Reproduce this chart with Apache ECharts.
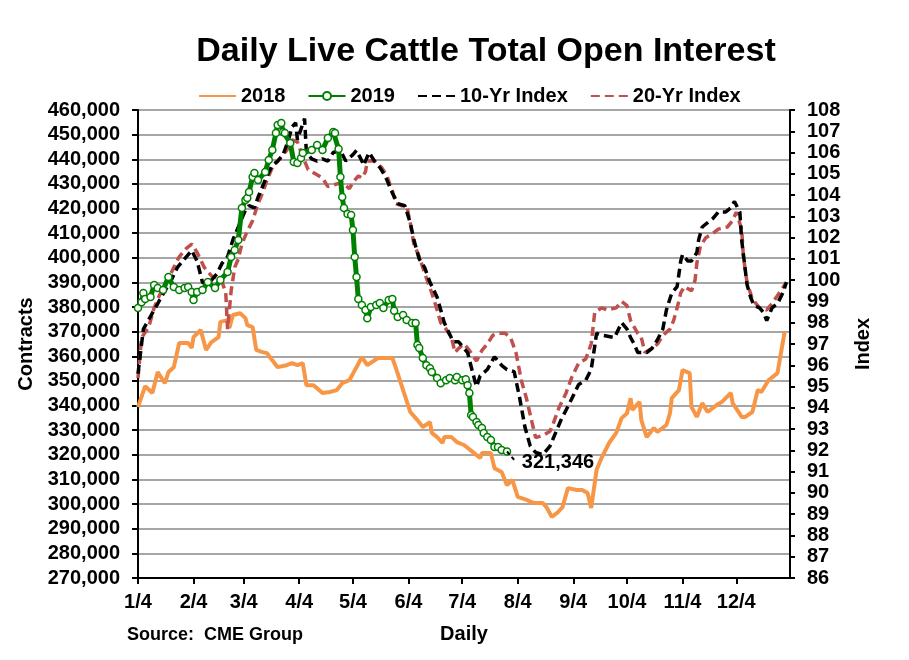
<!DOCTYPE html>
<html>
<head>
<meta charset="utf-8">
<script src="https://cdn.jsdelivr.net/npm/echarts@6/dist/echarts.min.js"></script>
<style>
  html, body { margin: 0; padding: 0; background: #fff; }
  #chart { width: 909px; height: 660px; }
</style>
</head>
<body>
<div id="chart"></div>
<script>
// daily categories, Jan 4 through Jan 3 of the next year
const days = [];
for (let i = 0; i < 365; i++) {
  const d = new Date(Date.UTC(2019, 0, 4) + i * 86400000);
  days.push((d.getUTCMonth() + 1) + '/' + d.getUTCDate());
}

const dates2018 = ['1/4','1/8','1/12','1/15','1/19','1/21','1/24','1/27','2/1','2/3','2/4','2/8','2/11','2/14','2/18','2/19','2/23','2/24','2/26','3/2','3/5','3/6','3/9','3/11','3/14','3/17','3/19','3/23','3/28','3/31','4/3','4/6','4/8','4/12','4/17','4/21','4/25','4/28','5/2','5/6','5/9','5/12','5/18','5/26','5/28','6/1','6/5','6/9','6/12','6/16','6/17','6/20','6/23','6/24','6/28','7/1','7/5','7/10','7/14','7/15','7/20','7/22','7/26','7/29','8/1','8/4','8/9','8/13','8/18','8/20','8/23','8/26','8/29','9/1','9/6','9/9','9/12','9/14','9/17','9/20','9/24','9/28','10/1','10/4','10/6','10/7','10/11','10/12','10/15','10/19','10/21','10/26','10/28','10/29','11/2','11/4','11/8','11/9','11/12','11/15','11/18','11/23','11/26','12/1','12/2','12/7','12/9','12/13','12/16','12/18','12/22','12/27','12/28','12/31'];
const vals2018 = [339400,347900,345100,353600,349100,353600,355600,365400,365400,363400,367800,370700,362600,365800,367800,374000,374700,371500,376800,377500,375500,372700,371900,362600,361800,361300,359300,355600,356400,357200,356400,357200,348300,348300,345100,345500,346300,349100,350300,355600,359700,356400,359300,359300,355200,346300,337400,334100,331300,333300,328900,327200,324800,327200,327200,325200,324000,321100,318700,320700,320700,314600,313000,307700,309800,302900,301700,300400,300400,298800,294800,296400,298800,306500,305700,305700,304500,298400,313800,319100,324800,328900,334900,336900,343000,338200,341500,334100,327200,330900,329300,332100,336900,343000,346300,354400,353200,339400,335400,341000,337400,340200,341500,345100,341000,335400,335400,337400,346300,345500,350300,353200,353600,369900];

const dates2019 = ['1/4','1/6','1/7','1/8','1/11','1/13','1/15','1/18','1/21','1/24','1/27','1/30','2/1','2/3','2/4','2/6','2/9','2/12','2/16','2/19','2/23','2/25','2/27','3/1','3/3','3/5','3/6','3/7','3/9','3/10','3/12','3/16','3/18','3/20','3/22','3/23','3/25','3/26','3/27','3/30','4/1','4/3','4/5','4/6','4/11','4/14','4/17','4/20','4/23','4/24','4/26','4/27','4/28','4/29','5/1','5/3','5/4','5/5','5/6','5/7','5/9','5/11','5/12','5/14','5/17','5/19','5/21','5/24','5/26','5/27','5/29','6/1','6/3','6/6','6/8','6/9','6/10','6/12','6/14','6/16','6/17','6/20','6/22','6/25','6/27','6/30','7/1','7/4','7/6','7/7','7/8','7/9','7/10','7/12','7/13','7/15','7/16','7/18','7/20','7/22','7/24','7/26','7/29'];
const vals2019 = [379600,382000,385700,383300,384100,389000,387700,386900,392200,388100,386900,387700,388100,386100,382900,386100,386900,390200,387700,391000,394200,400300,403200,407200,420200,423500,424300,426700,432800,434400,431600,434800,439700,443800,450700,453900,454700,451100,450700,446600,438900,438500,440500,442500,443800,445800,443800,448600,451100,450700,444200,432800,424700,420200,417800,417400,411300,400300,392200,383300,380800,378800,375500,380000,380800,381600,379600,382900,383300,378500,376000,376800,374700,373500,373500,364600,363400,359300,356400,355200,353600,351200,349100,350300,351200,350300,351600,350300,350700,348300,345100,336200,335400,333300,332100,330900,328900,327200,326000,323200,323200,322000,321346];

const dates10 = ['1/4','1/6','1/7','1/11','1/15','1/19','1/22','1/26','1/30','2/2','2/3','2/6','2/9','2/12','2/17','2/20','2/23','2/26','3/2','3/5','3/7','3/10','3/12','3/15','3/17','3/20','3/23','3/26','3/29','3/31','4/2','4/3','4/5','4/7','4/8','4/11','4/14','4/17','4/20','4/23','4/27','4/30','5/4','5/6','5/9','5/10','5/13','5/16','5/19','5/22','5/26','5/29','6/2','6/5','6/7','6/10','6/13','6/16','6/20','6/24','6/29','7/2','7/7','7/10','7/12','7/14','7/18','7/22','7/26','7/29','8/2','8/5','8/8','8/11','8/14','8/18','8/22','8/24','8/28','8/31','9/3','9/7','9/11','9/14','9/16','9/17','9/21','9/27','10/1','10/4','10/6','10/8','10/10','10/12','10/15','10/18','10/21','10/24','10/26','10/29','11/1','11/3','11/4','11/7','11/9','11/12','11/13','11/15','11/18','11/21','11/24','11/28','12/1','12/3','12/6','12/7','12/9','12/10','12/12','12/14','12/17','12/19','12/21','12/24','12/27','12/30','1/1'];
const vals10 = [95.6,97.0,97.7,98.3,98.9,99.5,99.9,100.6,101.0,101.3,101.4,100.9,99.9,99.8,100.3,100.8,101.1,101.9,102.7,103.3,103.5,103.4,103.9,104.5,104.9,105.4,105.6,105.9,106.6,107.2,107.4,106.6,107.1,107.6,106.0,105.7,105.6,105.7,105.6,106.0,106.1,105.6,105.9,106.1,105.6,105.4,106.0,105.6,105.3,104.9,104.1,103.6,103.5,102.7,101.9,101.0,100.6,99.9,99.2,98.0,97.1,97.1,96.6,95.6,95.0,95.5,95.8,96.4,96.0,95.8,95.7,94.5,93.1,92.2,91.9,91.8,92.2,92.6,93.4,93.9,94.4,95.1,95.3,95.8,96.9,97.5,97.4,97.3,98.0,97.7,97.3,97.0,96.6,96.6,96.6,96.8,97.2,97.7,98.6,99.4,99.7,100.9,101.2,100.9,100.9,101.3,101.9,102.5,102.7,102.9,103.2,103.2,103.4,103.7,103.2,101.9,100.5,99.8,99.2,98.8,98.7,98.5,98.1,98.7,98.9,99.4,99.9];

const dates20 = ['1/4','1/6','1/10','1/13','1/16','1/20','1/24','1/27','1/31','2/3','2/6','2/10','2/14','2/17','2/20','2/22','2/23','2/25','2/27','3/1','3/3','3/6','3/9','3/12','3/15','3/17','3/20','3/24','3/28','3/31','4/3','4/6','4/9','4/13','4/17','4/20','4/24','4/28','5/2','5/4','5/7','5/9','5/11','5/12','5/16','5/20','5/23','5/26','5/28','5/31','6/3','6/5','6/7','6/10','6/14','6/17','6/20','6/22','6/25','6/28','6/30','7/2','7/5','7/8','7/12','7/15','7/18','7/21','7/24','7/28','7/31','8/3','8/6','8/9','8/12','8/14','8/18','8/22','8/24','8/27','8/31','9/3','9/7','9/11','9/14','9/16','9/20','9/23','9/28','10/1','10/4','10/6','10/10','10/12','10/14','10/18','10/21','10/24','10/28','10/30','11/1','11/3','11/5','11/9','11/11','11/12','11/14','11/17','11/21','11/24','11/29','12/2','12/4','12/7','12/8','12/10','12/13','12/17','12/21','12/24','12/28','1/1'];
const vals20 = [95.4,97.3,97.8,98.7,99.3,99.9,100.6,101.1,101.5,101.7,101.3,100.6,100.2,100.1,99.9,99.4,97.7,99.5,100.6,101.0,101.7,102.3,102.8,103.6,104.2,104.7,105.3,105.7,106.1,106.6,106.5,105.8,105.2,105.0,104.8,104.4,104.5,104.6,104.3,104.6,104.9,104.8,105.1,105.6,105.6,105.3,104.9,104.2,103.6,103.5,103.5,102.7,101.7,101.1,100.1,99.4,98.6,98.0,97.7,97.3,96.6,96.8,97.0,96.7,96.2,96.7,97.0,97.4,97.5,97.5,97.3,96.6,95.3,94.4,93.3,92.6,92.7,92.9,93.3,94.0,94.7,95.4,96.1,96.3,97.0,98.5,98.7,98.6,98.7,99.0,98.8,98.1,97.5,97.3,96.6,96.8,97.0,97.4,97.7,98.1,98.7,99.4,99.7,99.5,100.0,100.8,101.6,102.0,102.2,102.4,102.5,102.8,103.2,102.4,101.1,99.9,99.1,98.7,98.6,98.9,99.4,99.9];

const font = 'Arial, "Liberation Sans", sans-serif';
const pairs = (xs, ys) => xs.map((x, i) => [x, ys[i]]);
const onFourth = (idx, val) => /\/4$/.test(val);
const lastDate = dates2019[dates2019.length - 1];
const lastVal = vals2019[vals2019.length - 1];
const noDot = { opacity: 0 };

const chart = echarts.init(document.getElementById('chart'));
chart.setOption({
  animation: false,
  title: {
    text: 'Daily Live Cattle Total Open Interest',
    left: 481,
    textAlign: 'center',
    top: 30,
    textStyle: { fontFamily: font, fontSize: 34, fontWeight: 'bold', color: '#000' }
  },
  legend: {
    data: [
      { name: '2018', itemStyle: noDot },
      { name: '2019' },
      { name: '10-Yr Index', itemStyle: noDot },
      { name: '20-Yr Index', itemStyle: noDot }
    ],
    left: 193,
    top: 81,
    itemWidth: 37,
    itemHeight: 10,
    itemGap: 22,
    textStyle: { fontFamily: font, fontSize: 20, fontWeight: 'bold', color: '#000' }
  },
  grid: {
    left: 138, right: 119, top: 110, bottom: 82,
    show: true, borderColor: '#404040', borderWidth: 2
  },
  xAxis: {
    type: 'category',
    data: days,
    boundaryGap: false,
    name: 'Daily',
    nameLocation: 'middle',
    nameGap: 46,
    nameTextStyle: { fontFamily: font, fontSize: 20, fontWeight: 'bold', color: '#000' },
    axisLine: { lineStyle: { color: '#000', width: 2 } },
    axisTick: { interval: onFourth, length: 6, lineStyle: { color: '#000', width: 2 } },
    axisLabel: {
      interval: onFourth, margin: 14,
      fontFamily: font, fontSize: 20, fontWeight: 'bold', color: '#000'
    },
    splitLine: { show: false }
  },
  yAxis: [
    {
      type: 'value',
      min: 270000, max: 460000, interval: 10000,
      name: 'Contracts',
      nameLocation: 'middle',
      nameGap: 98,
      nameTextStyle: { fontFamily: font, fontSize: 20, fontWeight: 'bold', color: '#000' },
      axisLine: { show: true, lineStyle: { color: '#000', width: 2 } },
      axisTick: { show: true, length: 6, lineStyle: { color: '#000', width: 2 } },
      axisLabel: {
        margin: 18,
        formatter: v => v.toLocaleString('en-US'),
        fontFamily: font, fontSize: 20, fontWeight: 'bold', color: '#000'
      },
      splitLine: { lineStyle: { color: '#a6a6a6', width: 2 } }
    },
    {
      type: 'value',
      min: 86, max: 108, interval: 1,
      name: 'Index',
      nameLocation: 'middle',
      nameGap: 63,
      nameRotate: 90,
      nameTextStyle: { fontFamily: font, fontSize: 20, fontWeight: 'bold', color: '#000' },
      axisLine: { show: true, lineStyle: { color: '#000', width: 2 } },
      axisTick: { show: true, length: 5, lineStyle: { color: '#000', width: 2 } },
      axisLabel: { margin: 17, fontFamily: font, fontSize: 20, fontWeight: 'bold', color: '#000' },
      splitLine: { show: false }
    }
  ],
  series: [
    {
      name: '20-Yr Index',
      type: 'line',
      yAxisIndex: 1,
      data: pairs(dates20, vals20),
      symbol: 'none',
      itemStyle: { color: '#c0504d' },
      lineStyle: { color: '#c0504d', width: 3.5, type: [9, 5] },
      z: 2
    },
    {
      name: '10-Yr Index',
      type: 'line',
      yAxisIndex: 1,
      data: pairs(dates10, vals10),
      symbol: 'none',
      itemStyle: { color: '#000' },
      lineStyle: { color: '#000', width: 3.5, type: [9, 5] },
      z: 3
    },
    {
      name: '2018',
      type: 'line',
      data: pairs(dates2018, vals2018),
      symbol: 'none',
      itemStyle: { color: '#f79646' },
      lineStyle: { color: '#f79646', width: 4 },
      z: 1
    },
    {
      name: '2019',
      type: 'line',
      data: pairs(dates2019, vals2019),
      symbol: 'circle',
      symbolSize: 7,
      showAllSymbol: true,
      itemStyle: { color: '#fff', borderColor: '#008000', borderWidth: 1.5 },
      lineStyle: { color: '#008000', width: 5 },
      z: 4,
      markLine: {
        silent: true,
        symbol: 'none',
        label: { show: false },
        lineStyle: { color: '#000', width: 2, type: [4, 3] },
        data: [[{ coord: [lastDate, lastVal] }, { coord: ['8/2', 318000] }]]
      },
      markPoint: {
        symbol: 'circle',
        symbolSize: 1,
        itemStyle: { color: 'rgba(0,0,0,0)' },
        label: {
          show: true,
          formatter: lastVal.toLocaleString('en-US'),
          offset: [51, 11],
          fontFamily: font, fontSize: 20, fontWeight: 'bold', color: '#000'
        },
        data: [{ coord: [lastDate, lastVal] }]
      }
    }
  ],
  graphic: [
    {
      type: 'text',
      left: 127,
      top: 626,
      style: { text: 'Source:  CME Group', font: 'bold 18px Arial, "Liberation Sans", sans-serif', fill: '#000' }
    }
  ]
});
</script>
</body>
</html>
